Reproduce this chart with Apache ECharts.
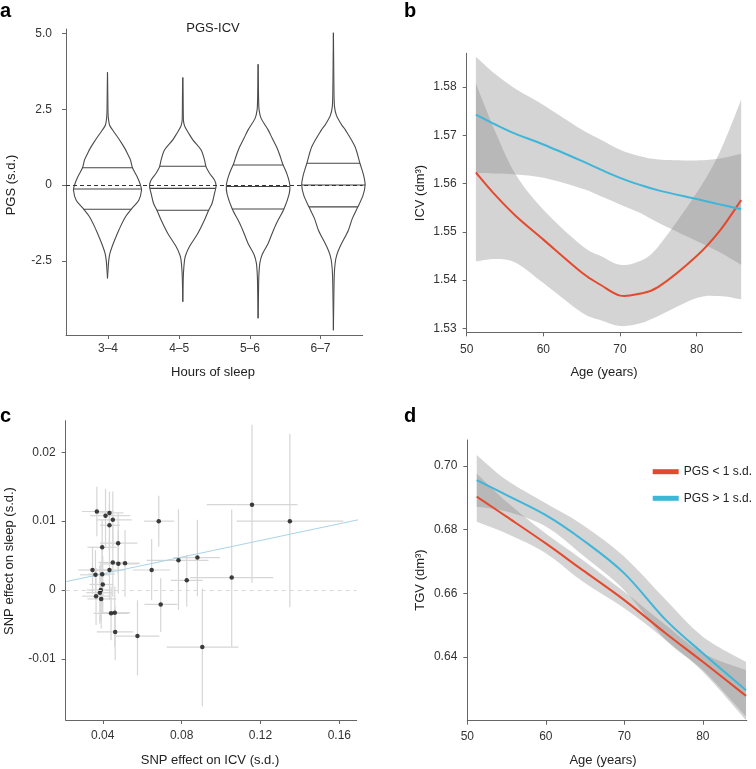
<!DOCTYPE html>
<html><head><meta charset="utf-8">
<script src="https://cdn.jsdelivr.net/npm/echarts@6/dist/echarts.min.js"></script>
<style>html,body{margin:0;padding:0;background:#fff}#c{width:756px;height:769px}</style>
</head><body><div id="c"></div>
<script>
// ---------- Panel a: violins ----------
const sleepCategories = ['3–4', '4–5', '5–6', '6–7'];
const sleepTickPos = [1.007, 1.953, 2.892, 3.829];
const violinPos = [1, 2, 3, 4];
// [PGS level, half width in x units]
const violin34 = [[3.72,0],[3.0,0.004],[2.5,0.006],[2.25,0.01],[1.98,0.027],[1.8,0.073],[1.6,0.129],[1.4,0.183],[1.21,0.23],[1.0,0.272],[0.83,0.305],[0.57,0.332],[0.27,0.394],[0.0,0.438],[-0.165,0.452],[-0.5,0.416],[-0.79,0.319],[-1.05,0.239],[-1.49,0.15],[-1.75,0.106],[-2.03,0.062],[-2.25,0.033],[-2.48,0.017],[-2.8,0.007],[-3.08,0]];
const violin45 = [[3.55,0],[3.0,0.004],[2.4,0.006],[2.1,0.01],[1.93,0.027],[1.7,0.08],[1.49,0.133],[1.155,0.243],[0.83,0.288],[0.6,0.309],[0.39,0.355],[0.165,0.421],[-0.03,0.442],[-0.275,0.421],[-0.6,0.389],[-0.825,0.345],[-1.155,0.288],[-1.6,0.199],[-2.03,0.089],[-2.3,0.04],[-2.48,0.023],[-2.9,0.009],[-3.3,0.004],[-3.85,0]];
const violin56 = [[3.99,0],[3.2,0.004],[2.8,0.007],[2.48,0.013],[2.2,0.04],[1.82,0.133],[1.55,0.186],[1.27,0.243],[1.0,0.286],[0.72,0.323],[0.35,0.385],[0.0,0.421],[-0.3,0.412],[-0.79,0.343],[-1.27,0.243],[-1.6,0.186],[-1.93,0.133],[-2.3,0.053],[-2.58,0.023],[-3.0,0.01],[-3.6,0.005],[-4.4,0]];
const violin67 = [[5.03,0],[4.0,0.004],[3.0,0.008],[2.58,0.015],[2.3,0.04],[2.0,0.106],[1.82,0.159],[1.27,0.286],[0.72,0.352],[0.35,0.398],[0.0,0.421],[-0.35,0.392],[-0.72,0.325],[-1.1,0.252],[-1.49,0.199],[-2.03,0.089],[-2.3,0.046],[-2.58,0.023],[-3.0,0.011],[-3.8,0.005],[-4.79,0]];
const quartileUpper = [0.57, 0.62, 0.66, 0.72];
const medians = [-0.13, -0.11, -0.05, 0.0];
const quartileLower = [-0.80, -0.83, -0.79, -0.72];
const pgsTicks = [-2.5, 0, 2.5, 5.0];

// ---------- Panel b: ICV by age ----------
const bAge = [51.2, 53.8, 56.4, 60, 65, 67.5, 70, 72.5, 75, 80, 83, 85.8];
const bLowPGS = [1.5623, 1.5575, 1.5533, 1.5484, 1.5416, 1.5390, 1.5368, 1.5372, 1.5386, 1.5450, 1.5502, 1.5566];
const bLowPGSUpper = [1.5808, 1.5705, 1.5619, 1.5546, 1.5472, 1.5450, 1.5432, 1.5439, 1.5470, 1.5581, 1.5665, 1.5774];
const bLowPGSLower = [1.5439, 1.5444, 1.5436, 1.5394, 1.5333, 1.5317, 1.5305, 1.5310, 1.5326, 1.5363, 1.5367, 1.5360];
const bHighPGS = [1.5743, 1.5722, 1.5703, 1.5681, 1.5647, 1.5629, 1.5612, 1.5598, 1.5586, 1.5568, 1.5557, 1.5547];
const bHighPGSUpper = [1.5863, 1.5826, 1.5796, 1.5763, 1.5712, 1.5691, 1.5670, 1.5657, 1.5650, 1.5648, 1.5652, 1.5662];
const bHighPGSLower = [1.5622, 1.5621, 1.5619, 1.5612, 1.5590, 1.5574, 1.5557, 1.5540, 1.5519, 1.5481, 1.5458, 1.5432];
const icvTicks = [1.53, 1.54, 1.55, 1.56, 1.57, 1.58];
const ageTicks = [50, 60, 70, 80];

// ---------- Panel c: SNP effects ----------
const snpIcv = [0.0370,0.0414,0.0434,0.0451,0.0434,0.0478,0.0397,0.0451,0.0479,0.0513,0.0348,0.0434,0.0397,0.0363,0.0400,0.0390,0.0385,0.0366,0.0392,0.0442,0.0461,0.0463,0.0576,0.0684,0.0648,0.0694,0.0784,0.0880,0.0826,0.1054,0.0905,0.1157,0.1349];
const snpSleep = [0.0114,0.0108,0.0112,0.0102,0.0094,0.0068,0.0062,0.0040,0.0038,0.0039,0.0029,0.0029,0.0023,0.0022,0.0008,0.0000,-0.0004,-0.0009,-0.0013,-0.0034,-0.0033,-0.0061,-0.0067,0.0100,0.0029,-0.0021,0.0043,0.0047,0.0014,0.0018,-0.0083,0.0124,0.0100];
const snpIcvLow = [0.0294,0.0336,0.0361,0.0370,0.0386,0.0386,0.0322,0.0378,0.0403,0.0437,0.0277,0.0370,0.0327,0.0285,0.0332,0.0319,0.0316,0.0294,0.0322,0.0353,0.0386,0.0370,0.0463,0.0609,0.0552,0.0611,0.0623,0.0758,0.0745,0.0843,0.0724,0.0927,0.1079];
const snpIcvHigh = [0.0454,0.0539,0.0505,0.0547,0.0488,0.0576,0.0471,0.0522,0.0581,0.0589,0.0420,0.0513,0.0463,0.0437,0.0454,0.0446,0.0446,0.0437,0.0468,0.0530,0.0539,0.0555,0.0687,0.0762,0.0741,0.0778,0.0936,0.0995,0.0907,0.1265,0.1088,0.1388,0.1620];
const snpSleepLow = [0.0078,0.0063,0.0058,0.0063,0.0053,0.0024,0.0015,-0.0010,-0.0005,-0.0010,-0.0005,-0.0015,-0.0024,-0.0015,-0.0034,-0.0044,-0.0049,-0.0051,-0.0056,-0.0073,-0.0083,-0.0102,-0.0124,0.0063,-0.0015,-0.0061,-0.0029,-0.0009,-0.0024,-0.0082,-0.0169,0.0010,-0.0025];
const snpSleepHigh = [0.0150,0.0147,0.0143,0.0143,0.0126,0.0112,0.0102,0.0092,0.0087,0.0087,0.0063,0.0073,0.0068,0.0058,0.0049,0.0041,0.0036,0.0032,0.0027,0.0005,0.0005,-0.0024,-0.0015,0.0137,0.0074,0.0017,0.0117,0.0102,0.0051,0.0117,0.0002,0.0240,0.0227];
const fitX = [0.0212, 0.1696];
const fitY = [0.0012, 0.0102];
const snpIcvTicks = [0.04, 0.08, 0.12, 0.16];
const snpSleepTicks = [-0.01, 0, 0.01, 0.02];

// ---------- Panel d: TGV by age ----------
const dAge = [51.2, 55, 60, 64.7, 70, 75.3, 80, 85.5];
const dLowPGS = [0.6904, 0.6841, 0.6757, 0.6673, 0.6579, 0.6474, 0.6385, 0.6278];
const dLowPGSUpper = [0.6977, 0.6888, 0.6788, 0.6705, 0.6605, 0.6500, 0.6412, 0.6359];
const dLowPGSLower = [0.6825, 0.6788, 0.6726, 0.6637, 0.6553, 0.6453, 0.6354, 0.6202];
const dHighPGS = [0.6956, 0.6909, 0.6846, 0.6768, 0.6663, 0.6516, 0.6412, 0.6296];
const dHighPGSUpper = [0.7035, 0.6956, 0.6883, 0.6815, 0.6715, 0.6579, 0.6464, 0.6385];
const dHighPGSLower = [0.6872, 0.6857, 0.6810, 0.6720, 0.6610, 0.6453, 0.6359, 0.6213];
const tgvTicks = [0.64, 0.66, 0.68, 0.70];
const legendNames = ['PGS < 1 s.d.', 'PGS > 1 s.d.'];

// ---------- styling ----------
const FONT = "'Liberation Sans', Arial, sans-serif";
const RED = '#e5492d', BLUE = '#3db6da';
const BAND = 'rgba(132,132,132,0.35)';
const AX = '#666';

const violinProfiles = [violin34, violin45, violin56, violin67];

function halfWidthAt(prof, v) {
  for (let k = 0; k < prof.length - 1; k++) {
    const a = prof[k], b = prof[k + 1];
    if (v <= a[0] && v >= b[0]) {
      const t = (a[0] - v) / (a[0] - b[0]);
      return a[1] + t * (b[1] - a[1]);
    }
  }
  return 0;
}

function renderViolin(params, api) {
  const i = api.value(2);
  const prof = violinProfiles[i];
  const cx = violinPos[i];
  const right = prof.map(p => api.coord([cx + p[1], p[0]]));
  const left = prof.map(p => api.coord([cx - p[1], p[0]]));
  const st = { stroke: '#4a4a4a', lineWidth: 1.1, fill: 'none' };
  const children = [
    { type: 'polyline', shape: { points: right, smooth: 0.3 }, style: st },
    { type: 'polyline', shape: { points: left, smooth: 0.3 }, style: st }
  ];
  [quartileUpper[i], medians[i], quartileLower[i]].forEach(q => {
    const hw = halfWidthAt(prof, q);
    const a = api.coord([cx - hw, q]), b = api.coord([cx + hw, q]);
    children.push({ type: 'line', shape: { x1: a[0], y1: a[1], x2: b[0], y2: b[1] }, style: { stroke: '#444', lineWidth: 1.1 } });
  });
  return { type: 'group', children };
}

function renderErr(params, api) {
  const x = api.value(0), y = api.value(1);
  const h1 = api.coord([api.value(2), y]), h2 = api.coord([api.value(3), y]);
  const v1 = api.coord([x, api.value(4)]), v2 = api.coord([x, api.value(5)]);
  const st = { stroke: '#d6d6d6', lineWidth: 1.2 };
  return { type: 'group', children: [
    { type: 'line', shape: { x1: h1[0], y1: h1[1], x2: h2[0], y2: h2[1] }, style: st },
    { type: 'line', shape: { x1: v1[0], y1: v1[1], x2: v2[0], y2: v2[1] }, style: st }
  ]};
}

// Catmull-Rom spline through pixel points (rendering only)
function splineSeg(pts) {
  let d = '';
  for (let i = 0; i < pts.length - 1; i++) {
    const p0 = pts[Math.max(i - 1, 0)], p1 = pts[i], p2 = pts[i + 1], p3 = pts[Math.min(i + 2, pts.length - 1)];
    const c1 = [p1[0] + (p2[0] - p0[0]) / 6, p1[1] + (p2[1] - p0[1]) / 6];
    const c2 = [p2[0] - (p3[0] - p1[0]) / 6, p2[1] - (p3[1] - p1[1]) / 6];
    d += `C${c1[0]},${c1[1]} ${c2[0]},${c2[1]} ${p2[0]},${p2[1]}`;
  }
  return d;
}

function bandSeries(idx, xs, lo, hi) {
  return {
    type: 'custom', xAxisIndex: idx, yAxisIndex: idx, silent: true, z: 1,
    data: [[xs[0], lo[0]]], encode: { x: 0, y: 1 },
    renderItem: (params, api) => {
      const up = xs.map((x, i) => api.coord([x, hi[i]]));
      const dn = xs.map((x, i) => api.coord([x, lo[i]])).reverse();
      const d = `M${up[0][0]},${up[0][1]}` + splineSeg(up) + `L${dn[0][0]},${dn[0][1]}` + splineSeg(dn) + 'Z';
      return { type: 'path', shape: { pathData: d }, style: { fill: BAND, stroke: null } };
    }
  };
}

function curve(idx, name, xs, ys, color) {
  return {
    type: 'custom', name, xAxisIndex: idx, yAxisIndex: idx, silent: true, z: 3,
    data: [[xs[0], ys[0]]], encode: { x: 0, y: 1 }, itemStyle: { color },
    renderItem: (params, api) => {
      const p = xs.map((x, i) => api.coord([x, ys[i]]));
      const d = `M${p[0][0]},${p[0][1]}` + splineSeg(p);
      return { type: 'path', shape: { pathData: d }, style: { fill: 'none', stroke: color, lineWidth: 2 } };
    }
  };
}

function pairs(xs, ys) { return xs.map((x, i) => [x, ys[i]]); }

function axisOf(idx, min, max, ticks, fmt, margin) {
  return { type: 'value', gridIndex: idx, min, max,
    axisLine: { show: true, onZero: false, lineStyle: { color: AX, width: 1 } },
    axisTick: { show: true, length: 4, customValues: ticks, lineStyle: { color: AX } },
    axisLabel: { customValues: ticks, formatter: fmt, color: '#333', fontSize: 12, fontFamily: FONT, margin },
    splitLine: { show: false } };
}

function txt(text, x, y, opts) {
  return Object.assign({ type: 'text', x, y, silent: true,
    style: Object.assign({ text, fill: '#222', font: `13px ${FONT}`, align: 'center', verticalAlign: 'middle' }, (opts && opts.style) || {}) },
    opts && opts.rotation ? { rotation: opts.rotation } : {});
}
const boldLabel = { font: `bold 20px ${FONT}`, align: 'left', verticalAlign: 'bottom', fill: '#000' };

const chart = echarts.init(document.getElementById('c'), null, { renderer: 'canvas' });
const option = {
  animation: false,
  backgroundColor: '#fff',
  grid: [
    { left: 66, top: 29, width: 296.7, height: 306 },
    { left: 466.7, top: 53.3, width: 275, height: 279 },
    { left: 65.7, top: 420.7, width: 291, height: 299.3 },
    { left: 467.3, top: 440, width: 279.5, height: 280.7 }
  ],
  xAxis: [
    axisOf(0, 0.449, 4.389, sleepTickPos, v => {
      let best = 0; sleepTickPos.forEach((p, i) => { if (Math.abs(p - v) < Math.abs(sleepTickPos[best] - v)) best = i; });
      return sleepCategories[best];
    }, 8),
    axisOf(1, 50, 85.87, ageTicks, v => String(v), 11),
    axisOf(2, 0.0212, 0.1688, snpIcvTicks, v => v.toFixed(2), 10),
    axisOf(3, 50, 85.6, ageTicks, v => String(v), 10)
  ],
  yAxis: [
    axisOf(0, -4.95, 5.15, pgsTicks, v => v === 0 ? '0' : v.toFixed(1), 14),
    axisOf(1, 1.5292, 1.587, icvTicks, v => v.toFixed(2), 10),
    axisOf(2, -0.0189, 0.0246, snpSleepTicks, v => Math.abs(v) < 1e-9 ? '0' : v.toFixed(2), 10),
    axisOf(3, 0.62, 0.7082, tgvTicks, v => v.toFixed(2), 10)
  ],
  legend: {
    data: legendNames, orient: 'vertical', left: 647.7, top: 460.7, itemWidth: 26, itemHeight: 5, itemGap: 14.6,
    icon: 'rect', selectedMode: false, textStyle: { fontSize: 12, color: '#222', fontFamily: FONT }
  },
  series: [
    // a
    { type: 'custom', xAxisIndex: 0, yAxisIndex: 0, renderItem: renderViolin, silent: true,
      data: violinPos.map((p, i) => [p, medians[i], i]), encode: { x: 0, y: 1 },
      markLine: { silent: true, symbol: ['none', 'none'], label: { show: false },
        lineStyle: { type: [4, 3], color: '#333', width: 1 }, data: [{ yAxis: 0 }] } },
    // b
    bandSeries(1, bAge, bHighPGSLower, bHighPGSUpper),
    bandSeries(1, bAge, bLowPGSLower, bLowPGSUpper),
    curve(1, 'b-low', bAge, bLowPGS, RED),
    curve(1, 'b-high', bAge, bHighPGS, BLUE),
    // c
    { type: 'custom', xAxisIndex: 2, yAxisIndex: 2, renderItem: renderErr, silent: true, z: 1,
      data: snpIcv.map((x, i) => [x, snpSleep[i], snpIcvLow[i], snpIcvHigh[i], snpSleepLow[i], snpSleepHigh[i]]),
      encode: { x: 0, y: 1 } },
    { type: 'line', xAxisIndex: 2, yAxisIndex: 2, data: pairs(fitX, fitY), symbol: 'none',
      lineStyle: { color: '#a9d3e6', width: 1 }, silent: true, z: 2 },
    { type: 'scatter', xAxisIndex: 2, yAxisIndex: 2, data: pairs(snpIcv, snpSleep), symbolSize: 4.5,
      itemStyle: { color: '#111' }, silent: true, z: 3,
      markLine: { silent: true, symbol: ['none', 'none'], label: { show: false },
        lineStyle: { type: [4, 4], color: '#d9d9d9', width: 1 }, data: [{ yAxis: 0 }] } },
    // d
    bandSeries(3, dAge, dHighPGSLower, dHighPGSUpper),
    bandSeries(3, dAge, dLowPGSLower, dLowPGSUpper),
    curve(3, legendNames[0], dAge, dLowPGS, RED),
    curve(3, legendNames[1], dAge, dHighPGS, BLUE)
  ],
  graphic: [
    txt('a', 0, 21, { style: boldLabel }),
    txt('b', 404, 21, { style: boldLabel }),
    txt('c', 0, 426, { style: boldLabel }),
    txt('d', 404, 426, { style: boldLabel }),
    txt('PGS-ICV', 213, 28),
    txt('PGS (s.d.)', 11, 185, { rotation: Math.PI / 2 }),
    txt('Hours of sleep', 213, 372),
    txt('ICV (dm³)', 420, 193, { rotation: Math.PI / 2 }),
    txt('Age (years)', 604, 372),
    txt('SNP effect on sleep (s.d.)', 9, 561, { rotation: Math.PI / 2 }),
    txt('SNP effect on ICV (s.d.)', 210, 760),
    txt('TGV (dm³)', 420, 580, { rotation: Math.PI / 2 }),
    txt('Age (years)', 603, 760)
  ]
};
chart.setOption(option);
</script></body></html>
